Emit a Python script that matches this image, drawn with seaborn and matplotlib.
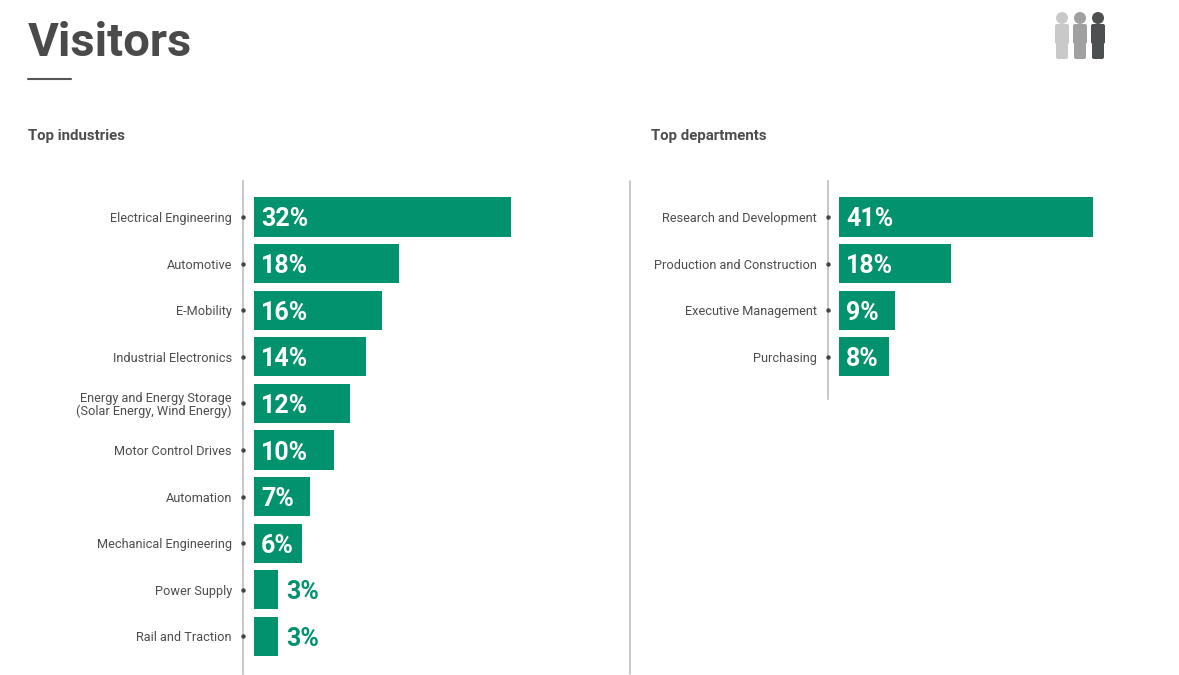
import matplotlib
matplotlib.use('Agg')
import matplotlib.pyplot as plt
from matplotlib.patches import FancyBboxPatch
import pandas as pd
import seaborn as sns

# values
industries = ['Electrical Engineering', 'Automotive', 'E-Mobility', 'Industrial Electronics',
              'Energy and Energy Storage\n(Solar Energy, Wind Energy)', 'Motor Control Drives',
              'Automation', 'Mechanical Engineering', 'Power Supply', 'Rail and Traction']
industry_vals = [32, 18, 16, 14, 12, 10, 7, 6, 3, 3]
departments = ['Research and Development', 'Production and Construction',
               'Executive Management', 'Purchasing']
department_vals = [41, 18, 9, 8]

GREEN = '#03926e'
GREY = '#4d4d4d'
W, H = 1179, 675
SLOT = 46.6  # px per bar

sns.set_theme(style='white')
plt.rcParams['font.family'] = ['Roboto', 'DejaVu Sans']

fig = plt.figure(figsize=(W / 100, H / 100), dpi=100, facecolor='white')


def px_axes(x0, x1, y0, y1):
    return fig.add_axes([x0 / W, 1 - y1 / H, (x1 - x0) / W, (y1 - y0) / H])


def draw_panel(ax, labels, vals, x_per_unit):
    df = pd.DataFrame({'label': labels, 'val': vals})
    sns.barplot(data=df, x='val', y='label', ax=ax, color=GREEN, saturation=1, width=0.84,
                orient='h', linewidth=0)
    pos = ax.get_position()
    top = 217 - (1 - pos.y1) * H
    bottom = pos.height * H - top
    ax.set_ylim(bottom / SLOT, -top / SLOT)
    ax.set_xlim(-11 / x_per_unit, (pos.width * W - 11) / x_per_unit)
    ax.set_xlabel('')
    ax.set_ylabel('')
    ax.set_xticks([])
    ax.set_yticks(range(len(labels)))
    ax.set_yticklabels(labels, fontsize=9.2, color=GREY, linespacing=1.0)
    ax.tick_params(axis='y', length=0, pad=8)
    sns.despine(ax=ax, top=True, right=True, bottom=True)
    ax.spines['left'].set_color('#bdbdbd')
    ax.spines['left'].set_linewidth(1.2)
    ax.plot([-11 / x_per_unit] * len(labels), range(len(labels)), 'o', ms=2.2, color='#444444',
            clip_on=False, zorder=5)
    for i, v in enumerate(vals):
        if v >= 5:
            ax.text(7 / x_per_unit, i, f'{v}%', color='white', fontsize=18, fontweight='bold',
                    va='center_baseline', ha='left')
        else:
            ax.text(v + 8 / x_per_unit, i, f'{v}%', color=GREEN, fontsize=18, fontweight='bold',
                    va='center_baseline', ha='left')


ax1 = px_axes(243, 620, 181, 674)
draw_panel(ax1, industries, industry_vals, 8.03)

ax2 = px_axes(828, 1140, 181, 399)
draw_panel(ax2, departments, department_vals, 6.2)

# divider in front of the right panel labels
fig.add_artist(plt.Line2D([630 / W, 630 / W], [1 - 181 / H, 1 - 674 / H], color='#bdbdbd', lw=1.2))

# header
fig.text(28 / W, 1 - 43 / H, 'Visitors', fontsize=34, fontweight='bold', color='#4a4a4a',
         va='center', ha='left')
fig.add_artist(plt.Line2D([28 / W, 71 / W], [1 - 78.5 / H] * 2, color='#555555', lw=1.5))
fig.text(28 / W, 1 - 136 / H, 'Top industries', fontsize=10.8, fontweight='bold', color=GREY,
         va='center', ha='left')
fig.text(651 / W, 1 - 136 / H, 'Top departments', fontsize=10.8, fontweight='bold', color=GREY,
         va='center', ha='left')

# people icon
bg = fig.add_axes([0, 0, 1, 1], zorder=-1)
bg.set_xlim(0, W)
bg.set_ylim(H, 0)
bg.axis('off')
for cx, col in [(1062, '#c9c9c9'), (1080, '#a0a0a0'), (1098, '#4d5050')]:
    bg.add_patch(plt.Circle((cx, 18), 6, color=col, lw=0))
    bg.add_patch(FancyBboxPatch((cx - 5, 26), 10, 16, boxstyle='round,pad=2', color=col, lw=0))
    bg.add_patch(FancyBboxPatch((cx - 4, 40), 8, 17, boxstyle='round,pad=2', color=col, lw=0))

fig.savefig('out.png', dpi=100, facecolor='white')
